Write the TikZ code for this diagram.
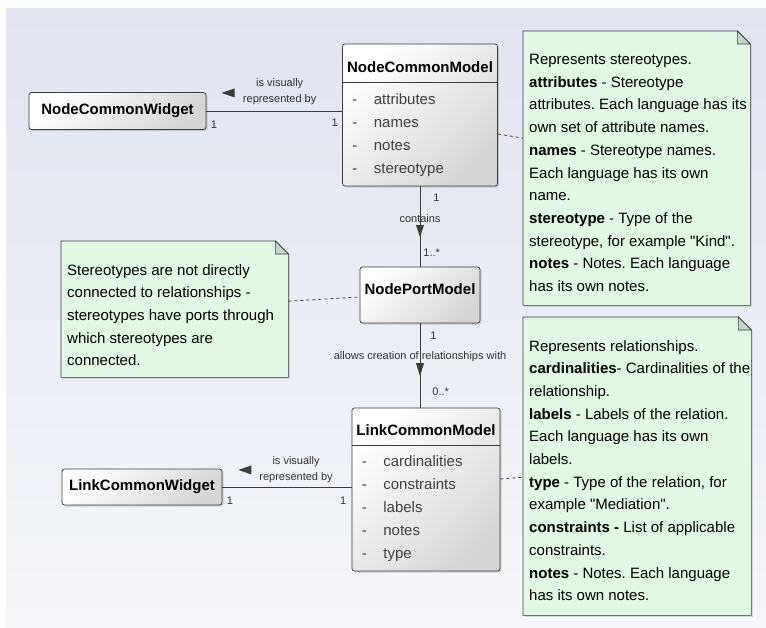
\documentclass[tikz,border=0pt]{standalone}
\usepackage{fontspec}
\setmainfont{Liberation Sans}
\usetikzlibrary{positioning,shadows}

\definecolor{bgtop}{RGB}{224,229,240}
\definecolor{bgbottom}{RGB}{244,246,250}
\definecolor{notegreen}{RGB}{226,247,228}
\definecolor{dogear}{RGB}{196,216,200}
\definecolor{edgegray}{RGB}{60,60,60}
\definecolor{attrgray}{RGB}{64,64,64}

% note outline with the folded corner
\newcommand{\notefold}[1]{%
  \filldraw[notepaper] (#1.north west) -- ([xshift=-13pt]#1.north east) -- ([yshift=-13pt]#1.north east) -- (#1.south east) -- (#1.south west) -- cycle;
  \filldraw[fill=dogear, draw=edgegray, line width=.6pt] ([xshift=-13pt]#1.north east) -- ([xshift=-13pt,yshift=-13pt]#1.north east) -- ([yshift=-13pt]#1.north east) -- cycle;
}

\frenchspacing
\begin{document}
\begin{tikzpicture}[x=1pt, y=-1pt,
        cls/.style={draw=edgegray, line width=.7pt, rounded corners=2.5pt, top color=white, bottom color=black!16, shading angle=45, drop shadow={shadow xshift=1.5pt, shadow yshift=-1.5pt, opacity=.3}, inner sep=0pt},
        widget/.style={cls, font=\fontsize{15}{18}\selectfont\bfseries},
        clsname/.style={font=\fontsize{15}{18}\selectfont\bfseries, inner sep=0pt},
        attrs/.style={font=\fontsize{15}{23}\selectfont, text=attrgray, align=left, anchor=north west, inner sep=0pt},
        notebox/.style={anchor=north west, inner sep=0pt},
        notepaper/.style={fill=notegreen, draw=edgegray, line width=.6pt, drop shadow={shadow xshift=1.5pt, shadow yshift=-1.5pt, opacity=.25}},
        notetext/.style={font=\fontsize{15}{22.7}\selectfont, align=left, anchor=north west, inner sep=2pt},
        assoc/.style={draw=edgegray, line width=.9pt},
        assoclbl/.style={font=\fontsize{11}{16}\selectfont, text=black!80, align=center, inner sep=1pt},
        mult/.style={font=\fontsize{11}{13}\selectfont, text=black!80, inner sep=1pt},
        notelink/.style={draw=black!75, line width=.8pt, dash pattern=on 3pt off 3pt}
    ]
    \useasboundingbox (0,0) rectangle (766,627);
    \shade[top color=bgtop, bottom color=bgbottom] (6,8) rectangle (766,627);

    % --- Stereotype side ---
    \node[widget, minimum width=177pt, minimum height=37pt] (ncw) at (117.5,111) {NodeCommonWidget};

    \node[cls, minimum width=155pt, minimum height=142pt] (ncm) at (420,115) {};
    \node[clsname] (ncmname) at ([yshift=-23pt]ncm.north) {NodeCommonModel};
    \draw[edgegray, line width=.7pt] ([yshift=-39pt]ncm.north west) -- ([yshift=-39pt]ncm.north east);
    \node[attrs] (ncmattr) at ([shift={(10pt,-50pt)}]ncm.north west)
        {-\hspace{16.5pt}attributes\\ -\hspace{16.5pt}names\\ -\hspace{16.5pt}notes\\ -\hspace{16.5pt}stereotype};

    \node[cls, minimum width=120pt, minimum height=56pt] (npm) at (420,295) {};
    \node[clsname] (npmname) at ([yshift=-22pt]npm.north) {NodePortModel};

    % --- Relationship side ---
    \node[widget, minimum width=160pt, minimum height=36pt] (lcw) at (142,487) {LinkCommonWidget};

    \node[cls, minimum width=148pt, minimum height=163pt] (lcm) at (426,489.5) {};
    \node[clsname] (lcmname) at ([yshift=-22pt]lcm.north) {LinkCommonModel};
    \draw[edgegray, line width=.7pt] ([yshift=-38pt]lcm.north west) -- ([yshift=-38pt]lcm.north east);
    \node[attrs] (lcmattr) at ([shift={(10pt,-48pt)}]lcm.north west)
        {-\hspace{16.5pt}cardinalities\\ -\hspace{16.5pt}constraints\\ -\hspace{16.5pt}labels\\ -\hspace{16.5pt}notes\\ -\hspace{16.5pt}type};

    % --- Notes ---
    \node[notebox, minimum width=227pt, minimum height=274pt] (stnote) at (523,31) {};
    \notefold{stnote}
    \node[notetext] (stnotetxt) at ([shift={(4pt,-21pt)}]stnote.north west)
        {Represents stereotypes.\\
         \textbf{attributes} - Stereotype\\
         attributes. Each language has its\\
         own set of attribute names.\\
         \textbf{names} - Stereotype names.\\
         Each language has its own\\
         name.\\
         \textbf{stereotype} - Type of the\\
         stereotype, for example \textquotedbl Kind\textquotedbl.\\
         \textbf{notes} - Notes. Each language\\
         has its own notes.};

    \node[notebox, minimum width=227pt, minimum height=136pt] (portnote) at (61,241) {};
    \notefold{portnote}
    \node[notetext] (portnotetxt) at ([shift={(4pt,-21pt)}]portnote.north west)
        {Stereotypes are not directly\\
         connected to relationships -\\
         stereotypes have ports through\\
         which stereotypes are\\
         connected.};

    \node[notebox, minimum width=228pt, minimum height=298pt] (linknote) at (523,317) {};
    \notefold{linknote}
    \node[notetext] (linknotetxt) at ([shift={(4pt,-21pt)}]linknote.north west)
        {Represents relationships.\\
         \textbf{cardinalities}- Cardinalities of the\\
         relationship.\\
         \textbf{labels} - Labels of the relation.\\
         Each language has its own\\
         labels.\\
         \textbf{type} - Type of the relation, for\\
         example \textquotedbl Mediation\textquotedbl.\\
         \textbf{constraints -} List of applicable\\
         constraints.\\
         \textbf{notes} - Notes. Each language\\
         has its own notes.};

    % --- Associations ---
    \draw[assoc] (ncw.east) --
        node[assoclbl, pos=.54, above=4.5pt] (ncwlbl) {is visually\\represented by}
        node[mult, pos=0, below right=8pt and 3pt] {1}
        node[mult, pos=1, below left=6pt and 3pt] {1}
        (ncw.east -| ncm.west);
    \fill[edgegray] ([xshift=-7pt,yshift=-1pt]ncwlbl.west) -- ++(0pt,4.5pt) -- ++(-13pt,-4.5pt) -- ++(13pt,-4.5pt) -- cycle;

    \draw[assoc] (ncm.south) --
        node[assoclbl, pos=.395] (contlbl) {contains}
        node[mult, pos=0, below right=6pt and 12pt] {1}
        node[mult, pos=1, above right=9pt and 2pt] {1..*}
        (npm.north);
    \fill[edgegray] ([yshift=-7pt]contlbl.center) ++(-4pt,0pt) -- ++(8pt,0pt) -- ++(-4pt,-12pt) -- cycle;

    \draw[assoc] (npm.south) --
        node[assoclbl, pos=.39] (rellbl) {allows creation of relationships with}
        node[mult, pos=0, below right=7pt and 9pt] {1}
        node[mult, pos=1, above right=11pt and 11pt] {0..*}
        (npm.south |- lcm.north);
    \fill[edgegray] ([yshift=-7pt]rellbl.center) ++(-4pt,0pt) -- ++(8pt,0pt) -- ++(-4pt,-13pt) -- cycle;

    \draw[assoc] (lcw.east) --
        node[assoclbl, pos=.57, above=3pt] (lcwlbl) {is visually\\represented by}
        node[mult, pos=0, below right=8pt and 3pt] {1}
        node[mult, pos=1, below left=8pt and 4pt] {1}
        (lcw.east -| lcm.west);
    \fill[edgegray] ([xshift=-6.5pt,yshift=-0.5pt]lcwlbl.west) -- ++(0pt,4.5pt) -- ++(-13pt,-4.5pt) -- ++(13pt,-4.5pt) -- cycle;

    % Note links
    \draw[notelink] ([yshift=-19pt]ncm.east) -- ([yshift=30pt]stnote.west);
    \draw[notelink] ([yshift=8pt]portnote.east) -- ([yshift=-2pt]npm.west);
    \draw[notelink] ([yshift=10.5pt]lcm.east) -- ([yshift=-11pt]linknote.west);

\end{tikzpicture}
\end{document}
